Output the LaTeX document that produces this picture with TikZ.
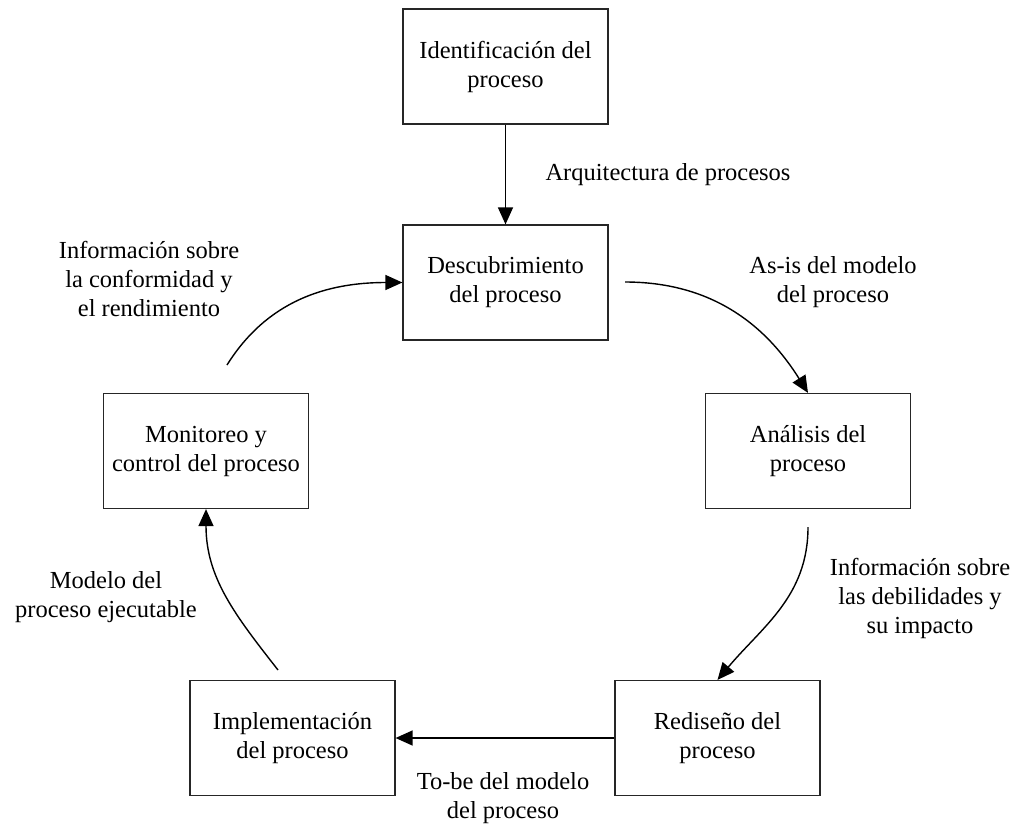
\documentclass[tikz,border=0pt]{standalone}
\usepackage{fontspec}
\setmainfont{Liberation Serif}
\usetikzlibrary{arrows.meta}
\begin{document}
\begin{tikzpicture}[x=1pt,y=-1pt,
  stage/.style={draw=black!85, line width=1.2pt, minimum width=205pt, minimum height=115pt,
    align=center, inner sep=0pt, font=\fontsize{24.5}{29}\selectfont},
  lbl/.style={align=center, inner sep=0pt, font=\fontsize{24.5}{29}\selectfont},
  flow/.style={draw=black, line width=1.4pt, -{Triangle[length=17pt,width=15pt]}}]
\useasboundingbox (0,0) rectangle (1014,830);

% process stages
\node[stage] (ident) at (505.5,66.5) {Identificación del\\proceso};
\node[stage] (desc)  at (505.5,282.5) {Descubrimiento\\del proceso};
\node[stage] (anal)  at (808,451) {Análisis del\\proceso};
\node[stage] (redis) at (717.5,738) {Rediseño del\\proceso};
\node[stage] (impl)  at (292.5,738) {Implementación\\del proceso};
\node[stage] (mon)   at (206,451) {Monitoreo y\\control del proceso};

% loose starting points of the curved connectors
\coordinate (desc-out)  at (625,282);
\coordinate (anal-out)  at (808,527);
\coordinate (impl-out)  at (278,670);
\coordinate (mon-out)   at (227,365);

% connectors
\draw[flow] (ident.south) -- (desc.north);
\draw[flow] (desc-out) to[out=0,in=122] (anal.north);
\draw[flow] (anal-out) to[out=-90,in=50] (redis.north);
\draw[flow] (redis.west) -- (impl.east);
\draw[flow] (impl-out) to[out=128,in=-90] (mon.south);
\draw[flow] (mon-out) to[out=58,in=180] (desc.west);

% connector labels
\node[lbl] (l1) at (668,175) {Arquitectura de procesos};
\node[lbl] (l2) at (833,282) {As-is del modelo\\del proceso};
\node[lbl] (l3) at (920,598) {Información sobre\\las debilidades y\\su impacto};
\node[lbl] (l4) at (503,798) {To-be del modelo\\del proceso};
\node[lbl] (l5) at (106,597) {Modelo del\\proceso ejecutable};
\node[lbl] (l6) at (149,279) {Información sobre\\la conformidad y\\el rendimiento};
\end{tikzpicture}
\end{document}
